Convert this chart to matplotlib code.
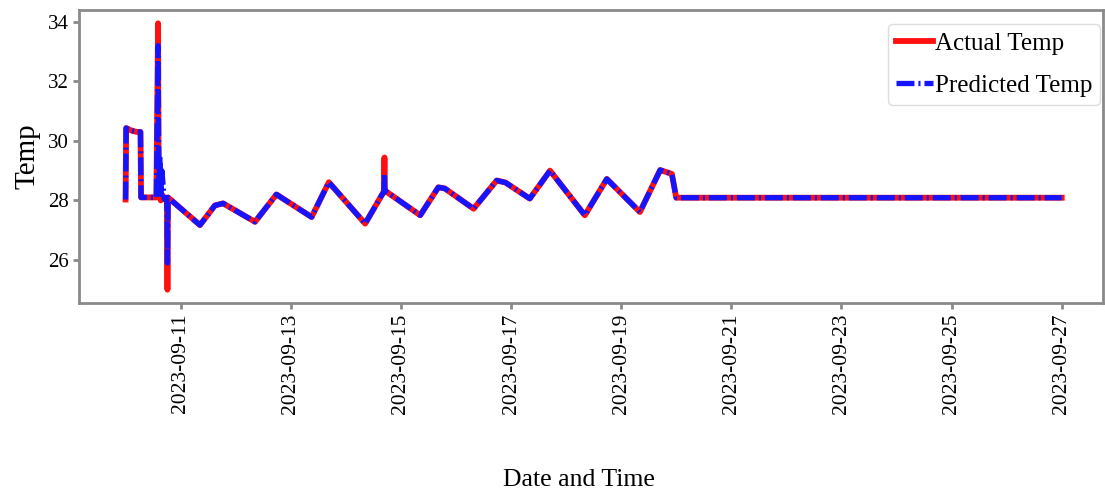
from matplotlib import pyplot as plt
import matplotlib.dates as mdates
import pandas as pd

## CONFIGS: ##
plt.rcParams['font.family'] = ['Liberation Serif', 'DejaVu Serif']
plt.rcParams['axes.edgecolor'] = '#8a8a8a'
plt.rcParams['axes.linewidth'] = 2
plt.rcParams['xtick.color'] = '#8a8a8a'
plt.rcParams['ytick.color'] = '#8a8a8a'
plt.rcParams['xtick.labelcolor'] = 'black'
plt.rcParams['ytick.labelcolor'] = 'black'
plt.rcParams['xtick.major.size'] = 4
plt.rcParams['ytick.major.size'] = 4
plt.rcParams['xtick.major.width'] = 2
plt.rcParams['ytick.major.width'] = 2
plt.rcParams['xtick.labelsize'] = 15.5
plt.rcParams['ytick.labelsize'] = 15

# readings
times = [
    '2023-09-10 00:00', '2023-09-10 00:15', '2023-09-10 02:25', '2023-09-10 04:50',
    '2023-09-10 06:30', '2023-09-10 06:45', '2023-09-10 13:25', '2023-09-10 14:10',
    '2023-09-10 14:25', '2023-09-10 14:40', '2023-09-10 14:55', '2023-09-10 15:20',
    '2023-09-10 15:50', '2023-09-10 16:50', '2023-09-10 18:00', '2023-09-10 18:15',
    '2023-09-10 18:30', '2023-09-11 08:25', '2023-09-11 14:55', '2023-09-11 18:30',
    '2023-09-12 08:25', '2023-09-12 17:45', '2023-09-13 09:05', '2023-09-13 16:35',
    '2023-09-14 08:25', '2023-09-14 16:35', '2023-09-14 16:50', '2023-09-14 17:00',
    '2023-09-15 08:25', '2023-09-15 16:20', '2023-09-15 19:10', '2023-09-16 07:40',
    '2023-09-16 17:45', '2023-09-16 21:35', '2023-09-17 08:10', '2023-09-17 17:00',
    '2023-09-18 08:10', '2023-09-18 17:45', '2023-09-19 08:10', '2023-09-19 17:00',
    '2023-09-19 22:05', '2023-09-20 00:00', '2023-09-27 00:00',
]
actual_temp = [
    28.03, 30.43, 30.35, 30.30,
    30.30, 28.10, 28.10, 33.95,
    28.10, 28.20, 28.10, 28.00,
    28.20, 28.05, 28.00, 25.00,
    28.10, 27.17, 27.83, 27.90,
    27.28, 28.20, 27.44, 28.61,
    27.22, 28.30, 29.44, 28.33,
    27.50, 28.44, 28.40, 27.72,
    28.67, 28.60, 28.06, 29.00,
    27.50, 28.72, 27.61, 29.02,
    28.89, 28.09, 28.09,
]
predicted_temp = [
    28.03, 30.43, 30.35, 30.30,
    30.30, 28.10, 28.10, 33.20,
    29.90, 28.30, 29.50, 28.20,
    29.00, 28.05, 28.00, 25.90,
    28.10, 27.17, 27.83, 27.90,
    27.28, 28.20, 27.44, 28.61,
    27.22, 28.30, 28.90, 28.33,
    27.50, 28.44, 28.40, 27.72,
    28.67, 28.60, 28.06, 29.00,
    27.50, 28.72, 27.61, 29.02,
    28.89, 28.09, 28.09,
]
tick_dates = ['2023-09-11', '2023-09-13', '2023-09-15', '2023-09-17', '2023-09-19',
              '2023-09-21', '2023-09-23', '2023-09-25', '2023-09-27']

df = pd.DataFrame({'time': pd.to_datetime(times),
                   'actual': actual_temp,
                   'predicted': predicted_temp})

fig = plt.figure(figsize=(11.05, 4.98), dpi=100)
ax = fig.add_axes([79 / 1105, 1 - 303 / 498, 1024 / 1105, 293 / 498])

ax.plot(df['time'], df['actual'], color='#ff1010', linewidth=4.2,
        solid_joinstyle='round', label='Actual Temp')
ax.plot(df['time'], df['predicted'], color='#1414ff', linewidth=3.8,
        linestyle=(0, (3.4, 0.75, 0.4, 0.75)), dash_joinstyle='round',
        label='Predicted Temp')

# x range: a bit of room on both sides of the data
start, end = df['time'].min(), df['time'].max()
ax.set_xlim(start - pd.Timedelta(hours=20.3), end + pd.Timedelta(hours=18))

ax.set_xticks(pd.to_datetime(tick_dates))
ax.xaxis.set_major_formatter(mdates.DateFormatter('%Y-%m-%d'))
plt.setp(ax.get_xticklabels(), rotation=90)
ax.set_yticks([26, 28, 30, 32, 34])

ax.set_ylabel('Temp', fontsize=21, labelpad=5)
ax.set_xlabel('Date and Time', fontsize=18.5)
ax.xaxis.set_label_coords((579 - 79) / 1024, (303 - 469) / 293)

leg = ax.legend(loc='upper right', fontsize=18, handlelength=1.5, handletextpad=0.05,
                borderpad=0.32, labelspacing=0.8, fancybox=True, framealpha=1,
                borderaxespad=0, bbox_to_anchor=(0.997, 0.952))
leg.get_frame().set_edgecolor('#dddddd')

plt.savefig('out.png', dpi=100)
